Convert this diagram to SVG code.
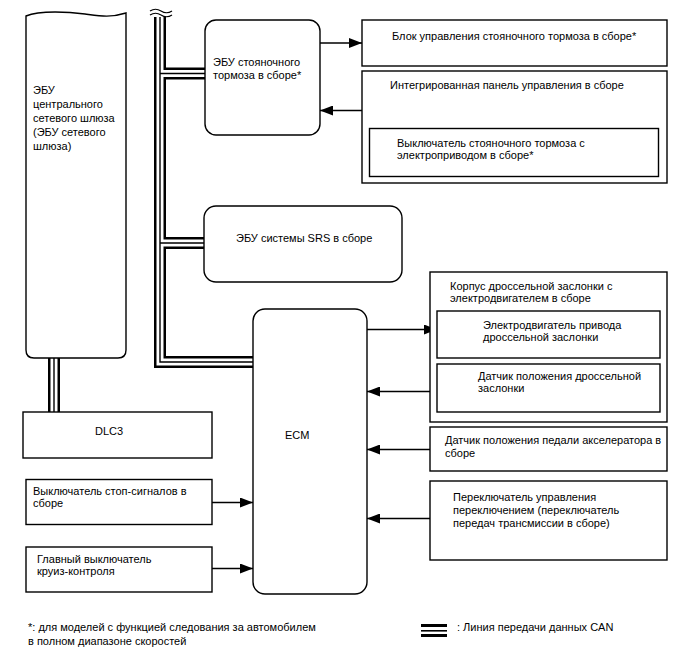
<svg xmlns="http://www.w3.org/2000/svg" width="688" height="658" viewBox="0 0 688 658">
<style>
text{font-family:"Liberation Sans",Arial,sans-serif;font-size:11px;fill:#000}
.box{fill:#fff;stroke:#000;stroke-width:1.4}
.con{fill:none;stroke:#000;stroke-width:1.3}
.canB{fill:none;stroke:#000;stroke-width:12;stroke-linejoin:miter}
.canW{fill:none;stroke:#fff;stroke-width:7;stroke-linejoin:miter}
.canM{fill:none;stroke:#000;stroke-width:1.4;stroke-linejoin:miter}
</style>
<defs>
<marker id="ah" markerUnits="userSpaceOnUse" markerWidth="13" markerHeight="10" refX="13" refY="5" orient="auto">
<path d="M0,0 L13,5 L0,10 Z" fill="#000"/>
</marker>
</defs>
<rect width="688" height="658" fill="#fff"/>

<g id="connectors">
<g id="can-bus">
<path class="canB" d="M160,17 V362 H253 M160,73.5 H205 M160,243 H204 M54,357 V412"/>
<path class="canW" d="M160,17 V362 H253 M160,73.5 H205 M160,243 H204 M54,357 V412"/>
<path class="canM" d="M160,17 V362 H253 M160,73.5 H205 M160,243 H204 M54,357 V412"/>
<path d="M150,11 q5.5,-3.5 11,0 t11,0 M150,15 q5.5,-3.5 11,0 t11,0" fill="none" stroke="#000" stroke-width="1.2"/>
</g>
<path class="con" marker-end="url(#ah)" d="M320,43 H362"/>
<path class="con" marker-end="url(#ah)" d="M362,110.5 H320"/>
<path class="con" marker-end="url(#ah)" d="M367,329.5 H437"/>
<path class="con" marker-end="url(#ah)" d="M437,391.5 H367"/>
<path class="con" marker-end="url(#ah)" d="M430,449.5 H367"/>
<path class="con" marker-end="url(#ah)" d="M430,518.5 H367"/>
<path class="con" marker-end="url(#ah)" d="M212,502.5 H253"/>
<path class="con" marker-end="url(#ah)" d="M212,568.5 H253"/>
</g>

<g id="gateway">
<path class="box" d="M26,16 C40,10 70,12 85,14 S110,18 126,13 V350 Q126,358 118,358 H34 Q26,358 26,350 Z"/>
<text x="33" y="94">ЭБУ</text>
<text x="33" y="108">центрального</text>
<text x="33" y="122">сетевого шлюза</text>
<text x="33" y="136">(ЭБУ сетевого</text>
<text x="33" y="150">шлюза)</text>
</g>

<g id="dlc3">
<rect class="box" x="23" y="412" width="189" height="46"/>
<text x="109" y="435" text-anchor="middle">DLC3</text>
</g>

<g id="parking-ecu">
<rect class="box" x="205" y="20" width="115" height="115" rx="11"/>
<text x="213" y="66">ЭБУ стояночного</text>
<text x="213" y="79">тормоза в сборе*</text>
</g>

<g id="parking-actuator">
<rect class="box" x="362" y="20" width="305" height="46"/>
<text x="392" y="40">Блок управления стояночного тормоза в сборе*</text>
</g>

<g id="integrated-panel">
<rect class="box" x="362" y="71" width="305" height="112"/>
<text x="390" y="89">Интегрированная панель управления в сборе</text>
</g>

<g id="epb-switch">
<rect class="box" x="369.5" y="128.5" width="289" height="48"/>
<text x="397" y="147">Выключатель стояночного тормоза с</text>
<text x="397" y="159">электроприводом в сборе*</text>
</g>

<g id="srs-ecu">
<rect class="box" x="204" y="206" width="198" height="76" rx="12"/>
<text x="236" y="242">ЭБУ системы SRS в сборе</text>
</g>

<g id="ecm">
<rect class="box" x="253" y="309" width="114" height="285" rx="12"/>
<text x="285" y="439">ECM</text>
</g>

<g id="throttle-body">
<rect class="box" x="430" y="272" width="237" height="150"/>
<text x="450" y="290">Корпус дроссельной заслонки с</text>
<text x="450" y="302">электродвигателем в сборе</text>
</g>

<g id="throttle-motor">
<rect class="box" x="437" y="311" width="223" height="47"/>
<text x="483" y="329">Электродвигатель привода</text>
<text x="483" y="341">дроссельной заслонки</text>
</g>

<g id="throttle-sensor">
<rect class="box" x="437" y="364" width="223" height="48"/>
<text x="478" y="380">Датчик положения дроссельной</text>
<text x="478" y="392">заслонки</text>
</g>

<g id="accel-sensor">
<rect class="box" x="430" y="427" width="237" height="44"/>
<text x="445" y="444">Датчик положения педали акселератора в</text>
<text x="445" y="457">сборе</text>
</g>

<g id="shift-switch">
<rect class="box" x="430" y="481" width="237" height="79"/>
<text x="453" y="501">Переключатель управления</text>
<text x="453" y="514">переключением (переключатель</text>
<text x="453" y="527">передач трансмиссии в сборе)</text>
</g>

<g id="stop-switch">
<rect class="box" x="26" y="479.5" width="186" height="45"/>
<text x="33" y="495">Выключатель стоп-сигналов в</text>
<text x="33" y="507">сборе</text>
</g>

<g id="cruise-switch">
<rect class="box" x="26" y="547" width="186" height="45"/>
<text x="37" y="563">Главный выключатель</text>
<text x="37" y="575">круиз-контроля</text>
</g>

<g id="legend">
<text x="28" y="630.5">*: для моделей с функцией следования за автомобилем</text>
<text x="28" y="644.5">в полном диапазоне скоростей</text>
<rect x="421" y="624" width="26" height="3" fill="#000"/>
<rect x="421" y="630" width="26" height="1.6" fill="#000"/>
<rect x="421" y="634" width="26" height="3" fill="#000"/>
<text x="457" y="630.5">: Линия передачи данных CAN</text>
</g>
</svg>
